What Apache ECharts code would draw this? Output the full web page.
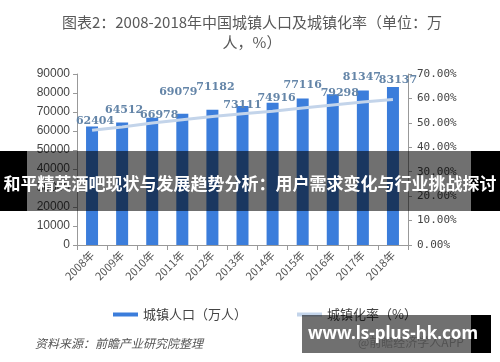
<!DOCTYPE html>
<html>
<head>
<meta charset="utf-8">
<script src="https://cdn.jsdelivr.net/npm/echarts@6/dist/echarts.min.js"></script>
<style>html,body{margin:0;padding:0;background:#fff}#c{width:500px;height:362px}</style>
</head>
<body>
<div id="c"></div>
<script>
const years = ['2008年','2009年','2010年','2011年','2012年','2013年','2014年','2015年','2016年','2017年','2018年'];
const population = [62404, 64512, 66978, 69079, 71182, 73111, 74916, 77116, 79298, 81347, 83137];
const urbanRate = [46.99, 48.34, 49.95, 51.27, 52.57, 53.73, 54.77, 56.10, 57.35, 58.52, 59.58];
const seriesNames = ['城镇人口（万人）', '城镇化率（%）'];
const titleText = '图表2：2008-2018年中国城镇人口及城镇化率（单位：万\n人，%）';
const sourceText = '资料来源：前瞻产业研究院整理';
const bannerText = '和平精英酒吧现状与发展趋势分析：用户需求变化与行业挑战探讨';
const siteText = 'www.ls-plus-hk.com';

// label nudges (style only)
const labelDx = [3, 2, 7, -4, 3, 0, 4, 0, 7, -1, 5];
const labelDy = [0, -7, 3, -16, -17, 5, 1, -8, 4, -8, -1];

const barData = population.map((v, i) => ({
  value: v,
  label: { offset: [labelDx[i], labelDy[i]] }
}));

const chart = echarts.init(document.getElementById('c'), null, { renderer: 'canvas' });
chart.setOption({
  backgroundColor: '#ffffff',
  animation: false,
  title: {
    text: titleText,
    left: 247, textAlign: 'center', top: 7,
    textStyle: { fontFamily: 'Noto Sans CJK SC', fontSize: 15, fontWeight: 'normal', color: '#595959', lineHeight: 20 }
  },
  legend: {
    left: 108, top: 303, itemGap: 50, itemWidth: 25, itemHeight: 4,
    textStyle: { fontFamily: 'Noto Sans CJK SC', fontSize: 13, color: '#444' },
    data: [
      { name: seriesNames[0], icon: 'rect' },
      { name: seriesNames[1], icon: 'rect' }
    ]
  },
  grid: { left: 77, right: 92, top: 74, bottom: 117, containLabel: false },
  xAxis: {
    type: 'category', data: years, boundaryGap: true,
    axisLine: { lineStyle: { color: '#999', width: 1 } },
    axisTick: { show: true, alignWithLabel: false, length: 5, lineStyle: { color: '#999' } },
    axisLabel: { rotate: 45, fontSize: 11, color: '#555', margin: 8, fontFamily: 'Noto Sans CJK SC' }
  },
  yAxis: [
    {
      type: 'value', min: 0, max: 90000, interval: 10000,
      axisLine: { show: true, lineStyle: { color: '#999' } },
      axisTick: { show: true, length: 4, lineStyle: { color: '#999' } },
      splitLine: { show: false },
      axisLabel: { fontFamily: 'Liberation Sans', fontSize: 12, color: '#444', margin: 7,
        formatter: v => String(v) }
    },
    {
      type: 'value', min: 0, max: 0.7, interval: 0.1,
      axisLine: { show: true, lineStyle: { color: '#999' } },
      axisTick: { show: true, length: 4, lineStyle: { color: '#999' } },
      splitLine: { show: false },
      axisLabel: {
        fontFamily: 'DejaVu Sans Mono', fontSize: 11, color: '#444', margin: 9,
        formatter: v => (v * 100).toFixed(2) + '%'
      }
    }
  ],
  series: [
    {
      name: seriesNames[0], type: 'bar', yAxisIndex: 0, data: barData,
      barWidth: 12,
      itemStyle: { color: '#3b7ddb' },
      label: {
        show: true, position: 'top', distance: 0,
        fontFamily: 'DejaVu Serif', fontSize: 11, fontWeight: 'bold', color: '#6485a8'
      },
      z: 2
    },
    {
      name: seriesNames[1], type: 'line', yAxisIndex: 1,
      data: urbanRate.map(v => v / 100),
      showSymbol: false, symbol: 'none',
      lineStyle: { color: '#c3d4ea', width: 3 },
      itemStyle: { color: '#c3d4ea' },
      z: 3
    }
  ],
  graphic: [
    { type: 'text', left: 35, top: 337, z: 10,
      style: { text: sourceText, font: 'italic 12px "Noto Sans CJK SC"', fill: '#555' } },
    { type: 'text', left: 358, top: 336, z: 10,
      style: { text: '@前瞻经济学人APP', font: '12px "Noto Sans CJK SC"', fill: '#bbb' } },
    // banner overlay
    { type: 'rect', shape: { x: 27, y: 151, width: 444, height: 60 }, z: 100,
      style: { fill: 'rgba(0,0,0,0.56)' } },
    { type: 'rect', shape: { x: 0, y: 151, width: 27, height: 60 }, z: 100,
      style: { fill: '#000' } },
    { type: 'rect', shape: { x: 471, y: 151, width: 29, height: 60 }, z: 100,
      style: { fill: '#000' } },
    { type: 'text', x: 250, y: 184, z: 101,
      style: { text: bannerText, font: 'bold 17px "Noto Sans CJK SC"', fill: '#fff',
        textAlign: 'center', textVerticalAlign: 'middle' } },
    // site watermark box
    { type: 'rect', shape: { x: 302, y: 315, width: 169, height: 38 }, z: 100,
      style: { fill: 'rgba(0,0,0,0.56)' } },
    { type: 'rect', shape: { x: 471, y: 315, width: 20, height: 38 }, z: 100,
      style: { fill: '#000' } },
    { type: 'text', x: 393, y: 334, z: 101,
      style: { text: siteText, font: 'bold 17px "Noto Sans"', fill: '#fff',
        textAlign: 'center', textVerticalAlign: 'middle' } }
  ]
});
</script>
</body>
</html>
